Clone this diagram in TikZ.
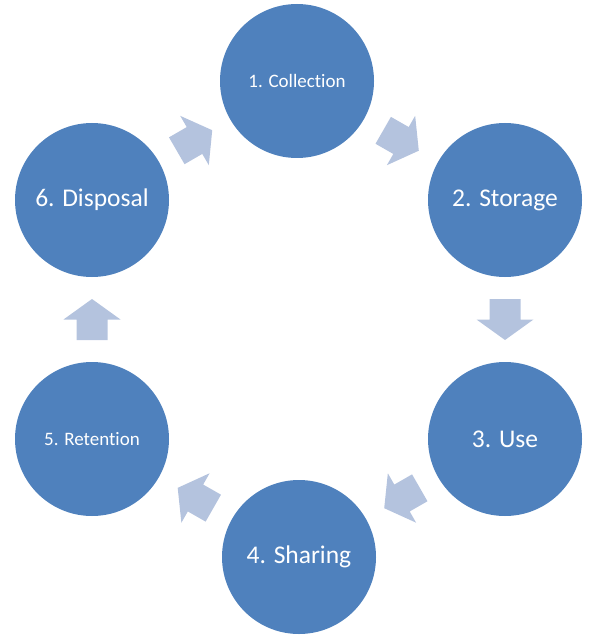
\documentclass[tikz,border=0pt]{standalone}
\usepackage{fontspec}
\setmainfont[Ligatures=CommonOff]{Carlito}
\usetikzlibrary{calc}
\definecolor{circblue}{HTML}{4F81BD}
\definecolor{arrblue}{HTML}{B4C3DE}
\tikzset{
  stage/.style={circle, fill=circblue, draw=none, minimum size=154pt, inner sep=0pt, text=white, font=\fontsize{25.5}{30}\selectfont},
  smallstage/.style={stage, font=\fontsize{19}{23}\selectfont},
  blk/.style={fill=arrblue, draw=none}
}
\newcommand{\blockarrow}[3]{%
  \fill[blk, shift={($(#1.center)!0.5!(#2.center)$)}, rotate=#3]
    (-20.5,-15.5) -- (0,-15.5) -- (0,-28.5) -- (20.5,0) -- (0,28.5) -- (0,15.5) -- (-20.5,15.5) -- cycle;}
\begin{document}
\begin{tikzpicture}[x=1pt,y=-1pt]
\useasboundingbox (0,0) rectangle (600,639);
\node[smallstage] (c1) at (297,81) {1. Collection};
\node[stage] (c2) at (505,200) {2. Storage};
\node[stage] (c3) at (505,439) {3. Use};
\node[stage] (c4) at (299,557) {4. Sharing};
\node[smallstage] (c5) at (92,439) {5. Retention};
\node[stage] (c6) at (92,200) {6. Disposal};
\blockarrow{c1}{c2}{-29.8}
\blockarrow{c2}{c3}{-90}
\blockarrow{c3}{c4}{-150.2}
\blockarrow{c4}{c5}{150.3}
\blockarrow{c5}{c6}{90}
\blockarrow{c6}{c1}{30.1}
\end{tikzpicture}
\end{document}
